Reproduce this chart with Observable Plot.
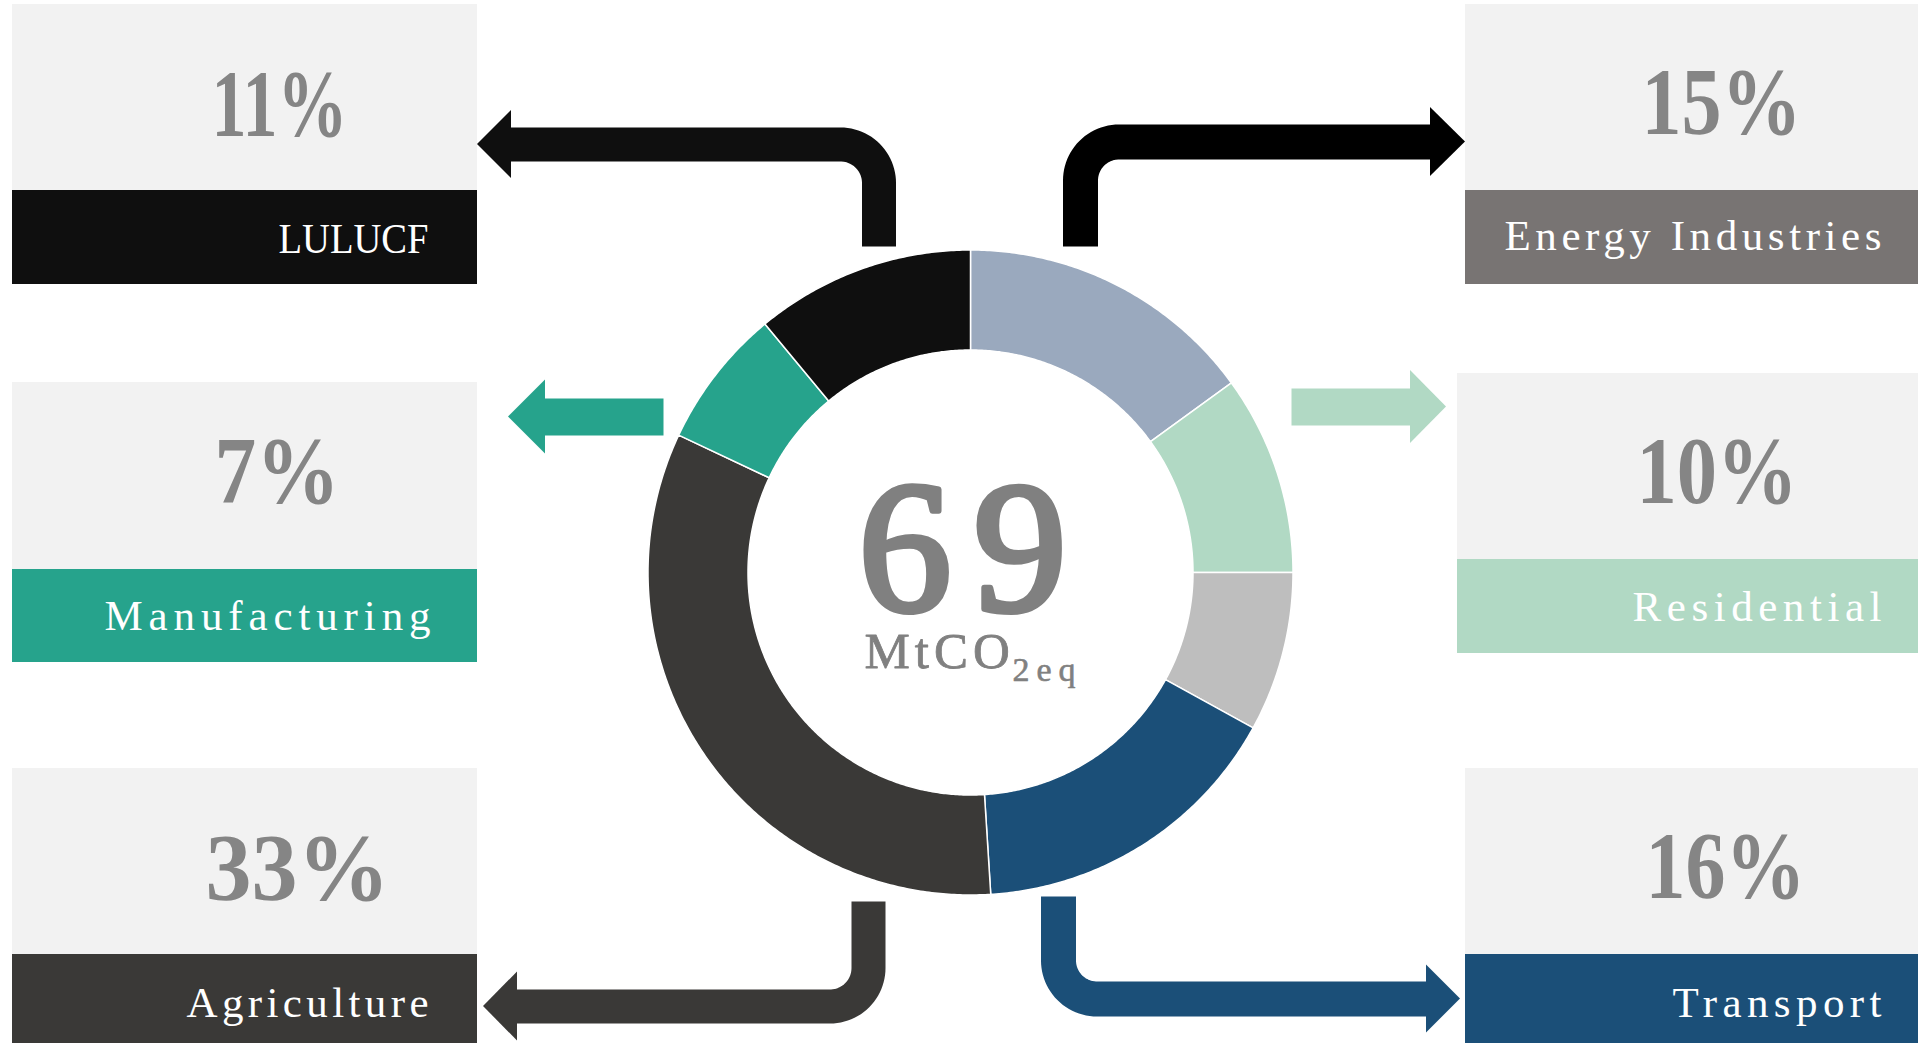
<!DOCTYPE html>
<html>
<head>
<meta charset="utf-8">
<script src="https://cdn.jsdelivr.net/npm/d3@7"></script>
<script src="https://cdn.jsdelivr.net/npm/@observablehq/plot@0.6"></script>
<style>
  html, body { margin: 0; padding: 0; background: #ffffff; overflow: hidden; }
  #chart svg { display: block; }
</style>
</head>
<body>
<div id="chart"></div>
<script>
// Greenhouse-gas emissions by sector, share of the national total (%)
const sectors = ["Energy Industries", "Residential", "Other", "Transport", "Agriculture", "Manufacturing", "LULUCF"];
const shares  = [15, 10, 8, 16, 33, 7, 11];

// Total emissions shown in the centre of the ring
const totalValue   = 69;
const totalUnit    = "MtCO";
const totalUnitSub = "2eq";

// Colours per sector (ring slice, label band, connector arrow)
const sliceColors = ["#9aa9be", "#b1d9c4", "#bebebe", "#1b4f78", "#3a3937", "#26a38c", "#0f0f0f"];
const bandColors  = ["#787473", "#b1d9c4", null,      "#1b4f78", "#3a3937", "#26a38c", "#0f0f0f"];
const arrowColors = ["#000000", "#b1d9c4", null,      "#1b4f78", "#3a3937", "#26a38c", "#0f0f0f"];

// ---- layout (pixels) ----
const W = 1918, H = 1043;
const FONT = "Liberation Serif, 'Times New Roman', serif";
const ring = {cx: 970.5, cy: 572.5, outer: 322.5, inner: 222.5};

// Label panels: grey value box over a coloured name band, plus the arrow that links it to the ring.
// pct / label: [ink left, baseline, ink width]
const panels = {
  "LULUCF": {
    x1: 12, x2: 477, top: 4, mid: 190, bottom: 284,
    pct: [214, 135, 130], label: [279, 252, 148],
    arrow: {path: [[878.5, 246], [878.5, 144], [511, 144]], w: 34, tip: 477, half: 34}
  },
  "Manufacturing": {
    x1: 12, x2: 477, top: 382, mid: 569, bottom: 662,
    pct: [217, 502, 119], label: [105, 629, 324],
    arrow: {path: [[663, 416.5], [545, 416.5]], w: 37, tip: 508, half: 37}
  },
  "Agriculture": {
    x1: 12, x2: 477, top: 768, mid: 954, bottom: 1043,
    pct: [208, 899, 178], label: [187, 1016, 240],
    arrow: {path: [[868, 901], [868, 1006], [517, 1006]], w: 34, tip: 483, half: 34.5}
  },
  "Energy Industries": {
    x1: 1465, x2: 1918, top: 4, mid: 190, bottom: 284,
    pct: [1644, 133, 154], label: [1505, 249, 375],
    arrow: {path: [[1080, 246], [1080, 141.5], [1430, 141.5]], w: 35, tip: 1465, half: 34.5}
  },
  "Residential": {
    x1: 1457, x2: 1918, top: 373, mid: 559, bottom: 653,
    pct: [1639, 502, 155], label: [1633, 620, 247],
    arrow: {path: [[1291, 406.5], [1410, 406.5]], w: 37, tip: 1446, half: 36.5}
  },
  "Transport": {
    x1: 1465, x2: 1918, top: 768, mid: 954, bottom: 1043,
    pct: [1648, 897, 154], label: [1673, 1016, 207],
    arrow: {path: [[1058, 896], [1058, 998.5], [1426, 998.5]], w: 35, tip: 1460, half: 34}
  }
};
const CORNER = 38.5;

// ---- derived tables ----
const sliceData = sectors.map((sector, i) => ({
  sector, share: shares[i], color: sliceColors[i], band: bandColors[i], arrow: arrowColors[i]
}));
const labeled = sliceData.filter(d => panels[d.sector]);

// Ring slices from d3.pie (12 o'clock, clockwise), sampled into outer/inner edges
const arcs = d3.pie().sort(null).value(d => d.share)(sliceData);
const ringPts = arcs.flatMap(a => {
  const n = Math.max(2, Math.ceil((a.endAngle - a.startAngle) / (Math.PI / 360)));
  return d3.range(n + 1).map(k => {
    const t = a.startAngle + (a.endAngle - a.startAngle) * k / n;
    const s = Math.sin(t), c = Math.cos(t);
    return {
      sector: a.data.sector, color: a.data.color,
      xo: ring.cx + ring.outer * s, yo: ring.cy - ring.outer * c,
      xi: ring.cx + ring.inner * s, yi: ring.cy - ring.inner * c
    };
  });
});

// Polyline with right-angle corners replaced by circular arcs
function roundCorners(pts, r, steps = 24) {
  const out = [pts[0]];
  for (let i = 1; i < pts.length - 1; i++) {
    const [px, py] = pts[i - 1], [qx, qy] = pts[i], [nx, ny] = pts[i + 1];
    const d0 = Math.hypot(qx - px, qy - py), d1 = Math.hypot(nx - qx, ny - qy);
    const u0 = [(qx - px) / d0, (qy - py) / d0], u1 = [(nx - qx) / d1, (ny - qy) / d1];
    const a = [qx - u0[0] * r, qy - u0[1] * r];
    const b = [qx + u1[0] * r, qy + u1[1] * r];
    const c = [a[0] + u1[0] * r, a[1] + u1[1] * r];
    const t0 = Math.atan2(a[1] - c[1], a[0] - c[0]);
    let dt = Math.atan2(b[1] - c[1], b[0] - c[0]) - t0;
    while (dt > Math.PI) dt -= 2 * Math.PI;
    while (dt < -Math.PI) dt += 2 * Math.PI;
    for (let k = 0; k <= steps; k++) {
      const t = t0 + dt * k / steps;
      out.push([c[0] + r * Math.cos(t), c[1] + r * Math.sin(t)]);
    }
  }
  // run the shaft slightly under the arrowhead so no seam shows
  const [lx, ly] = pts[pts.length - 1], [kx, ky] = pts[pts.length - 2];
  const len = Math.hypot(lx - kx, ly - ky);
  out.push([lx + (lx - kx) / len * 2, ly + (ly - ky) / len * 2]);
  return out;
}

// ---- marks ----
const marks = [];

// grey value boxes and coloured name bands
marks.push(Plot.rect(labeled, {
  x1: d => panels[d.sector].x1, x2: d => panels[d.sector].x2,
  y1: d => panels[d.sector].top, y2: d => panels[d.sector].mid,
  fill: "#f2f2f2"
}));
marks.push(Plot.rect(labeled, {
  x1: d => panels[d.sector].x1, x2: d => panels[d.sector].x2,
  y1: d => panels[d.sector].mid, y2: d => panels[d.sector].bottom,
  fill: d => d.band
}));

// connector arrows
for (const d of labeled) {
  const ar = panels[d.sector].arrow;
  const pts = roundCorners(ar.path, CORNER);
  marks.push(Plot.line(pts, {
    x: p => p[0], y: p => p[1], stroke: d.arrow, strokeWidth: ar.w,
    strokeLinecap: "butt", strokeLinejoin: "miter", strokeMiterlimit: 4
  }));
  const back = ar.path[ar.path.length - 1], yc = back[1];
  marks.push(Plot.area([
    {x: back[0], y1: yc - ar.half, y2: yc + ar.half},
    {x: ar.tip,  y1: yc,           y2: yc}
  ], {x1: "x", y1: "y1", y2: "y2", fill: d.arrow}));
}

// ring slices
marks.push(Plot.area(ringPts, {
  x1: "xo", y1: "yo", x2: "xi", y2: "yi", z: "sector",
  fill: "color", stroke: "#ffffff", strokeWidth: 1.5
}));

// text marks (order matters for the width fitting below)
// 0: share values
marks.push(Plot.text(labeled, {
  x: d => panels[d.sector].pct[0] - 3, y: d => panels[d.sector].pct[1],
  text: d => `${d.share}%`, fontSize: 95, fontWeight: "bold", fontFamily: FONT, fill: "#858585",
  textAnchor: "start", lineAnchor: "bottom"
}));
// 1: sector names
marks.push(Plot.text(labeled, {
  x: d => panels[d.sector].label[0] - 1, y: d => panels[d.sector].label[1],
  text: d => d.sector, fontSize: 43, fontFamily: FONT, fill: "#ffffff",
  textAnchor: "start", lineAnchor: "bottom"
}));
// 2-4: centre total and unit (the total is thickened with a matching outline)
marks.push(Plot.text([totalValue], {
  x: 858, y: 609, text: d => String(d), fontSize: 186, fontFamily: FONT,
  fill: "#808080", stroke: "#808080", strokeWidth: 6, strokeLinejoin: "round",
  textAnchor: "start", lineAnchor: "bottom"
}));
marks.push(Plot.text([totalUnit], {
  x: 864, y: 667, text: d => d, fontSize: 51, fontFamily: FONT,
  fill: "#808080", stroke: "#808080", strokeWidth: 0.8,
  textAnchor: "start", lineAnchor: "bottom"
}));
marks.push(Plot.text([totalUnitSub], {
  x: 1012, y: 680, text: d => d, fontSize: 34, fontFamily: FONT,
  fill: "#808080", stroke: "#808080", strokeWidth: 0.6,
  textAnchor: "start", lineAnchor: "bottom"
}));

const chart = Plot.plot({
  width: W, height: H,
  margin: 0,
  x: {domain: [0, W], range: [0, W], axis: null},
  y: {domain: [0, H], range: [0, H], axis: null},
  color: {type: "identity"},
  style: {background: "#ffffff", overflow: "visible"},
  marks
});
document.getElementById("chart").append(chart);

// fit the condensed serif text to its panel widths
const textGroups = chart.querySelectorAll('g[aria-label="text"]');
function fit(group, widthOf, pad) {
  group.querySelectorAll("text").forEach((el, i) => {
    const target = widthOf(i) + pad;
    const natural = el.getComputedTextLength();
    el.setAttribute("textLength", target);
    el.setAttribute("lengthAdjust", natural > target ? "spacingAndGlyphs" : "spacing");
  });
}
fit(textGroups[0], i => panels[labeled[i].sector].pct[2], 6);
fit(textGroups[1], i => panels[labeled[i].sector].label[2], 2);
textGroups[2].querySelectorAll("text").forEach(el => el.setAttribute("letter-spacing", "22"));
textGroups[3].querySelectorAll("text").forEach(el => el.setAttribute("letter-spacing", "5"));
textGroups[4].querySelectorAll("text").forEach(el => el.setAttribute("letter-spacing", "7"));
</script>
</body>
</html>
